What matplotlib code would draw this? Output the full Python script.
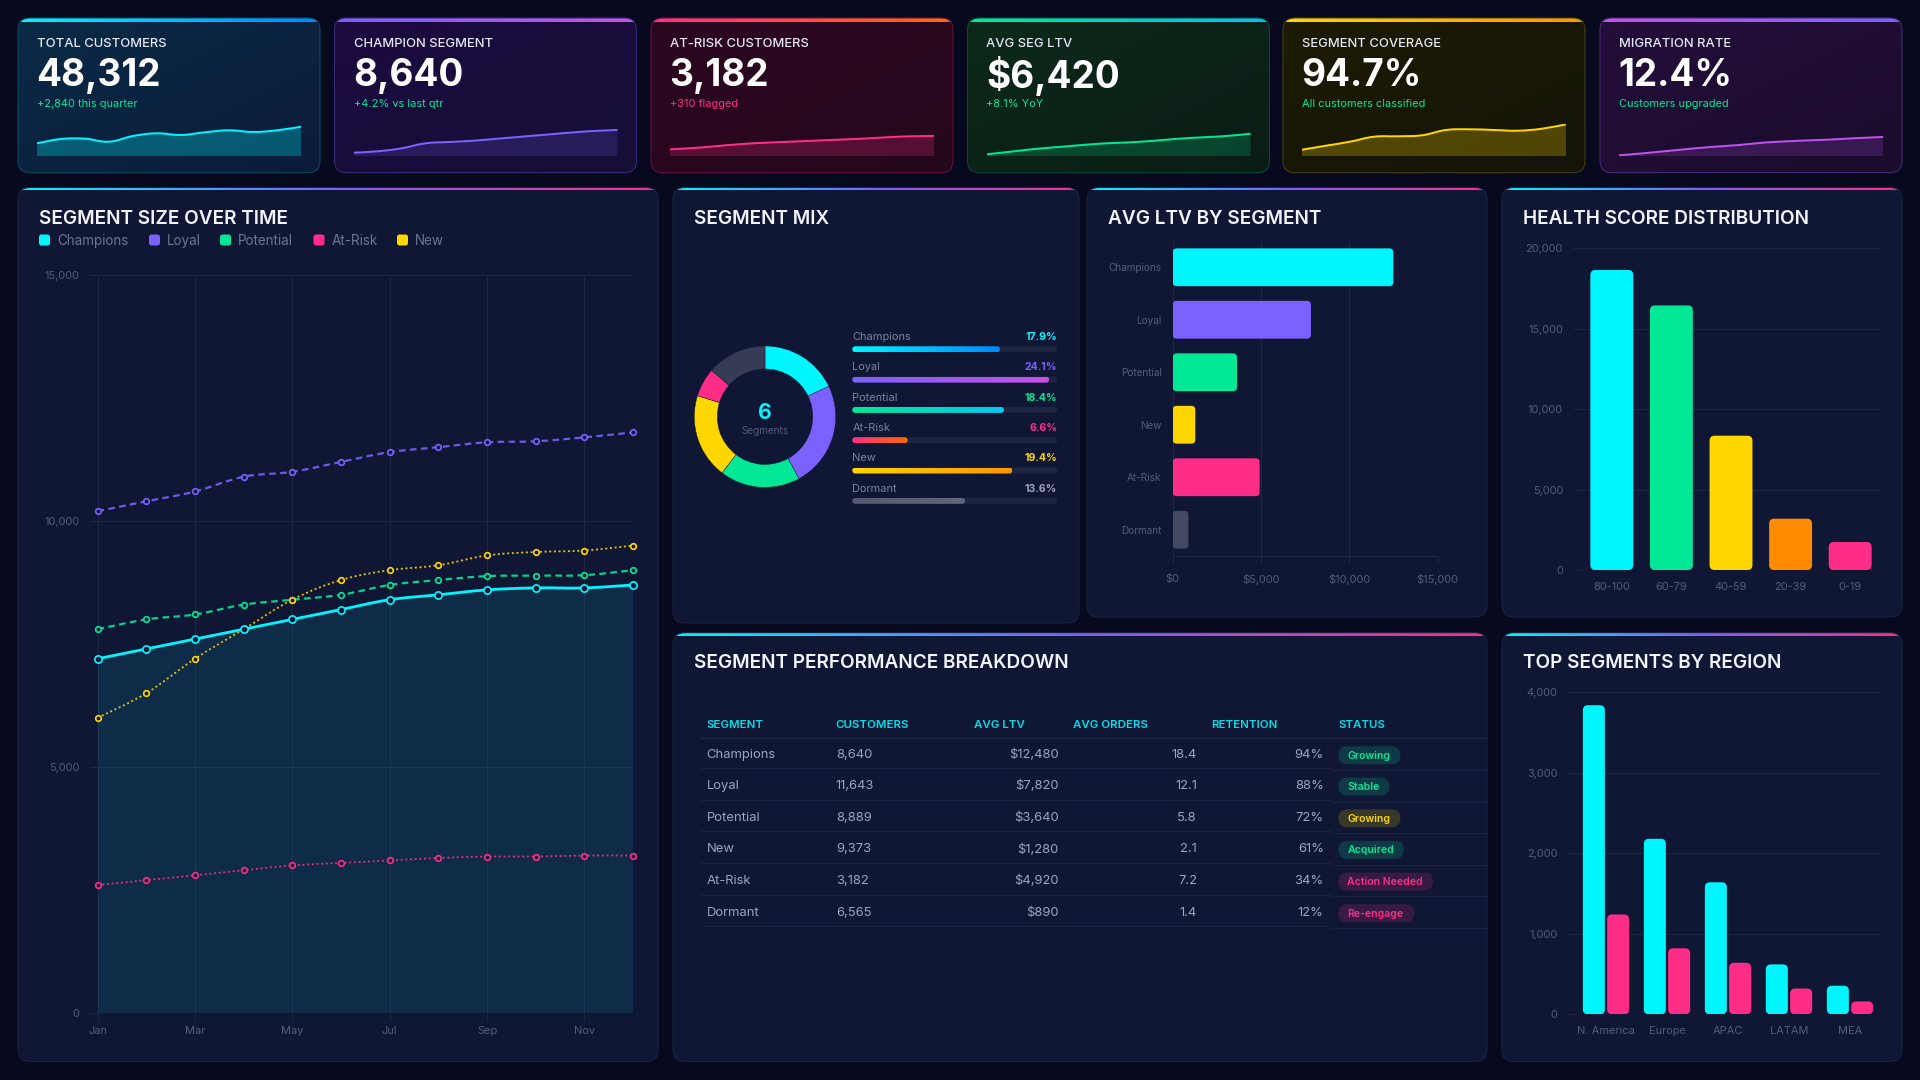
import numpy as np
import matplotlib
matplotlib.use('Agg')
import matplotlib.pyplot as plt
from matplotlib.colors import LinearSegmentedColormap
from matplotlib.patches import FancyBboxPatch, PathPatch
from matplotlib.path import Path
from matplotlib.ticker import FuncFormatter

plt.rcParams['font.family'] = ['Inter', 'DejaVu Sans']

# colours
BG = '#070a1e'
PANEL = '#101735'
PANEL_EDGE = '#1d2442'
GRID = '#1e2642'
TICK = '#575d78'
CYAN = '#00f5ff'
PURPLE = '#7b61ff'
GREEN = '#00e896'
PINK = '#ff2d87'
YELLOW = '#ffd600'
ORANGE = '#ff8c00'
GREY = '#363b56'

# KPI cards
kpi_labels = ['TOTAL CUSTOMERS', 'CHAMPION SEGMENT', 'AT-RISK CUSTOMERS', 'AVG SEG LTV', 'SEGMENT COVERAGE', 'MIGRATION RATE']
kpi_values = ['48,312', '8,640', '3,182', '$6,420', '94.7%', '12.4%']
kpi_subs = ['+2,840 this quarter', '+4.2% vs last qtr', '+310 flagged', '+8.1% YoY', 'All customers classified', 'Customers upgraded']
spark_customers = [12.7, 17, 17.3, 14.3, 20, 22.7, 21, 23.7, 25.7, 24, 25.7, 29.3]
spark_champion = [3.3, 4.7, 7.7, 12.7, 14, 15.3, 17.3, 19.3, 21.3, 23.3, 25, 26]
spark_atrisk = [6.7, 8, 10, 12, 13.3, 14.3, 15.3, 16.3, 17.3, 18.7, 19.7, 20]
spark_ltv = [1.7, 4.3, 7, 9, 11, 12.7, 13.7, 15.3, 17.3, 18.7, 20, 22.3]
spark_coverage = [6.3, 10.3, 14.3, 19.3, 19.7, 20.7, 26, 26.7, 26, 25.3, 27.3, 31.7]
spark_migration = [0.7, 2.7, 5, 7.3, 9.3, 11, 13.3, 14.7, 15.7, 16.7, 18, 19]

# segment size over time
months = ['Jan', 'Feb', 'Mar', 'Apr', 'May', 'Jun', 'Jul', 'Aug', 'Sep', 'Oct', 'Nov', 'Dec']
champions = [7200, 7400, 7600, 7800, 8000, 8200, 8400, 8500, 8600, 8640, 8640, 8700]
loyal = [10200, 10400, 10600, 10900, 11000, 11200, 11400, 11500, 11600, 11620, 11700, 11800]
potential = [7800, 8000, 8100, 8300, 8400, 8500, 8700, 8800, 8880, 8890, 8900, 9000]
at_risk = [2600, 2700, 2800, 2900, 3000, 3050, 3100, 3150, 3180, 3180, 3200, 3200]
new = [6000, 6500, 7200, 7800, 8400, 8800, 9000, 9100, 9300, 9370, 9400, 9500]

# segment mix
mix_labels = ['Champions', 'Loyal', 'Potential', 'At-Risk', 'New', 'Dormant']
mix_pct = [17.9, 24.1, 18.4, 6.6, 19.4, 13.6]
mix_fill = [72, 96, 74, 27, 78, 55]
donut_order = ['Champions', 'Loyal', 'Potential', 'New', 'At-Risk', 'Dormant']

# avg ltv
ltv_labels = ['Champions', 'Loyal', 'Potential', 'New', 'At-Risk', 'Dormant']
ltv_values = [12480, 7820, 3640, 1280, 4920, 890]

# health score
health_labels = ['80-100', '60-79', '40-59', '20-39', '0-19']
health_values = [18650, 16450, 8350, 3190, 1740]

# region
regions = ['N. America', 'Europe', 'APAC', 'LATAM', 'MEA']
region_champions = [3840, 2180, 1640, 620, 355]
region_atrisk = [1240, 820, 640, 320, 160]

# table
table_head = ['SEGMENT', 'CUSTOMERS', 'AVG LTV', 'AVG ORDERS', 'RETENTION', 'STATUS']
table_segment = ['Champions', 'Loyal', 'Potential', 'New', 'At-Risk', 'Dormant']
table_customers = ['8,640', '11,643', '8,889', '9,373', '3,182', '6,565']
table_ltv = ['$12,480', '$7,820', '$3,640', '$1,280', '$4,920', '$890']
table_orders = ['18.4', '12.1', '5.8', '2.1', '7.2', '1.4']
table_retention = ['94%', '88%', '72%', '61%', '34%', '12%']
table_status = ['Growing', 'Stable', 'Growing', 'Acquired', 'Action Needed', 'Re-engage']

W, H = 1920, 1080
PX = 0.72  # css px to pt at dpi 100

fig = plt.figure(figsize=(W / 100, H / 100), dpi=100, facecolor=BG)
bg = fig.add_axes([0, 0, 1, 1])
bg.set_xlim(0, W)
bg.set_ylim(H, 0)
bg.axis('off')
bg.set_autoscale_on(False)


def axpx(l, t, r, b):
    ax = fig.add_axes([l / W, 1 - b / H, (r - l) / W, (b - t) / H])
    ax.patch.set_alpha(0)
    ax.set_autoscale_on(False)
    return ax


def gradient(ax, extent, colors, clip, diagonal=False, zorder=2):
    cmap = LinearSegmentedColormap.from_list('g', colors)
    if diagonal:
        a = np.add.outer(np.linspace(0, 1, 64), np.linspace(0, 1, 64)) / 2
    else:
        a = np.linspace(0, 1, 256)[None, :]
    im = ax.imshow(a, extent=extent, cmap=cmap, vmin=0, vmax=1, aspect='auto',
                   interpolation='bilinear', zorder=zorder)
    im.set_clip_path(clip)
    return im


def panel(l, t, r, b, fill, bar, edge=PANEL_EDGE, bar_h=3):
    box = FancyBboxPatch((l, t), r - l, b - t, boxstyle='round,pad=0,rounding_size=12',
                         fc='none', ec=edge, lw=1 * PX, zorder=3)
    bg.add_patch(box)
    if isinstance(fill, str):
        fill = [fill, fill]
    gradient(bg, (l, r, b, t), fill, box, diagonal=True, zorder=1)
    gradient(bg, (l, r, t + bar_h, t), bar, box, zorder=2)


def rbar(ax, x, y, w, h, r_px, color, zorder=3, **kw):
    # rounded rectangle in data units, radius stays r_px on screen
    bb = ax.get_position()
    xpp = (ax.get_xlim()[1] - ax.get_xlim()[0]) / (bb.width * W)
    ypp = abs(ax.get_ylim()[1] - ax.get_ylim()[0]) / (bb.height * H)
    p = FancyBboxPatch((x, y), w, h, boxstyle='round,pad=0,rounding_size=%f' % (r_px * xpp),
                       mutation_aspect=ypp / xpp, fc=color, ec='none', zorder=zorder, **kw)
    ax.add_patch(p)
    return p


def smooth_path(x, y, k=0.18):
    x = np.asarray(x, float)
    y = np.asarray(y, float)
    n = len(x)
    verts = [(x[0], y[0])]
    codes = [Path.MOVETO]
    for i in range(n - 1):
        a = max(i - 1, 0)
        d = min(i + 2, n - 1)
        verts.append((x[i] + (x[i + 1] - x[a]) * k, y[i] + (y[i + 1] - y[a]) * k))
        verts.append((x[i + 1] - (x[d] - x[i]) * k, y[i + 1] - (y[d] - y[i]) * k))
        verts.append((x[i + 1], y[i + 1]))
        codes += [Path.CURVE4] * 3
    return verts, codes


def style_axis(ax, size=11):
    for s in ax.spines.values():
        s.set_visible(False)
    ax.tick_params(colors=TICK, labelsize=size * PX, color=GRID, width=1 * PX)
    ax.set_axisbelow(True)


def title(x, y, s):
    bg.text(x, y, s, color='#f2f5ff', fontsize=19 * PX, fontweight='semibold', va='center', ha='left', zorder=5)


# ---- KPI cards
card_x = [(18, 320), (334.5, 636.5), (651, 953), (967.5, 1269.5), (1283, 1585), (1600, 1902)]
card_fill = [['#0a2a46', '#0c1c3a'], ['#1b0a3e', '#170f38'], ['#2c0720', '#25081c'],
             ['#0c2a1a', '#0b1c14'], ['#1d1b03', '#14140a'], ['#240e3a', '#1a0c2c']]
card_bar = [[CYAN, '#0088ff'], [PURPLE, '#c850e8'], [PINK, '#ff6a00'], [GREEN, '#00c0f5'],
            [YELLOW, '#ff9500'], ['#c850e8', PURPLE]]
card_edge = ['#0c4a60', '#3a2a78', '#6a1040', '#0c4a38', '#4a430a', '#4a2a78']
spark_color = [CYAN, PURPLE, PINK, GREEN, YELLOW, '#c050f0']
spark_alpha = [0.28, 0.17, 0.22, 0.2, 0.25, 0.18]
sub_color = [GREEN, GREEN, PINK, GREEN, GREEN, GREEN]
sparks = [spark_customers, spark_champion, spark_atrisk, spark_ltv, spark_coverage, spark_migration]

for i, (l, r) in enumerate(card_x):
    panel(l, 18, r, 172.7, card_fill[i], card_bar[i], edge=card_edge[i], bar_h=4)
    bg.text(l + 19, 44, kpi_labels[i], color='#e4e8f4', fontsize=13 * PX, fontweight='medium', va='center', zorder=5)
    bg.text(l + 18.5, 76, kpi_values[i], color='white', fontsize=37 * PX, fontweight='bold', va='center', zorder=5)
    bg.text(l + 19, 104, kpi_subs[i], color=sub_color[i], fontsize=11 * PX, va='center', zorder=5)
    sp = axpx(l + 19, 124, r - 19, 156)
    sp.set_xlim(0, 11)
    sp.set_ylim(0, 32)
    sp.axis('off')
    verts, codes = smooth_path(range(12), sparks[i], k=0.2)
    fv = verts + [(11, 0), (0, 0), (0, 0)]
    fc = codes + [Path.LINETO, Path.LINETO, Path.CLOSEPOLY]
    sp.add_patch(PathPatch(Path(fv, fc), fc=spark_color[i], ec='none', alpha=spark_alpha[i]))
    sp.add_patch(PathPatch(Path(verts, codes), fc='none', ec=spark_color[i], lw=2 * PX))

# ---- panels
top_bar = [CYAN, '#7b61ff', PINK]
panel(18, 187.5, 658, 1061.5, PANEL, top_bar)
panel(673, 187.5, 1079, 623, PANEL, top_bar)
panel(1087, 187.5, 1487, 617, PANEL, top_bar)
panel(1502, 187.5, 1902, 617, PANEL, top_bar)
panel(673, 632.7, 1487, 1061.5, PANEL, top_bar)
panel(1502, 632.7, 1902, 1061.5, PANEL, top_bar)

title(39, 218.5, 'SEGMENT SIZE OVER TIME')
title(694, 218.5, 'SEGMENT MIX')
title(1108, 218.5, 'AVG LTV BY SEGMENT')
title(1523, 218.5, 'HEALTH SCORE DISTRIBUTION')
title(694, 663.5, 'SEGMENT PERFORMANCE BREAKDOWN')
title(1523, 663.5, 'TOP SEGMENTS BY REGION')

# ---- line chart
legend_items = [('Champions', CYAN, 39), ('Loyal', PURPLE, 149), ('Potential', GREEN, 220),
                ('At-Risk', PINK, 313.5), ('New', YELLOW, 397)]
for name, c, x in legend_items:
    bg.add_patch(FancyBboxPatch((x, 234.5), 11, 11, boxstyle='round,pad=0,rounding_size=2.5', fc=c, ec='none', zorder=5))
    bg.text(x + 18, 241, name, color='#6f7590', fontsize=13.5 * PX, va='center', zorder=5)

ax = axpx(97.6, 275, 633, 1013)
ax.set_xlim(0, 11)
ax.set_ylim(0, 15000)
style_axis(ax)
ax.set_xticks(range(0, 12, 2))
ax.set_xticklabels(months[::2])
ax.set_yticks([0, 5000, 10000, 15000])
ax.yaxis.set_major_formatter(FuncFormatter(lambda v, p: f'{int(v):,}'))
ax.tick_params(axis='x', length=8 * PX, pad=5 * PX)
ax.tick_params(axis='y', length=8 * PX, pad=10 * PX)
ax.grid(True, color=GRID, lw=1 * PX)
xs = range(12)
verts, codes = smooth_path(xs, champions)
ax.add_patch(PathPatch(Path(verts + [(11, 0), (0, 0), (0, 0)], codes + [Path.LINETO, Path.LINETO, Path.CLOSEPOLY]),
                       fc=CYAN, ec='none', alpha=0.09, zorder=1))
series = [(loyal, PURPLE, 2.2, (0, (3, 2)), 2.8),
          (potential, GREEN, 2.2, (0, (3, 2)), 2.8),
          (at_risk, PINK, 1.8, (0, (1.1, 1.5)), 2.8),
          (new, YELLOW, 1.8, (0, (1.1, 1.5)), 2.8),
          (champions, CYAN, 2.8, '-', 3.6)]
for vals, c, lw, ls, ms in series:
    verts, codes = smooth_path(xs, vals)
    ax.add_patch(PathPatch(Path(verts, codes), fc='none', ec=c, lw=lw * PX, ls=ls, zorder=3, alpha=0.9 if ls != '-' else 1))
    ax.plot(xs, vals, ls='none', marker='o', ms=ms * 2 * PX, mfc=PANEL, mec=c, mew=1.7 * PX, zorder=4, clip_on=False)

# ---- donut
r_frame = 70.7 * 1.1
ax = axpx(765 - r_frame, 416.7 - r_frame, 765 + r_frame, 416.7 + r_frame)
donut_vals = [mix_pct[mix_labels.index(n)] for n in donut_order]
donut_cols = [CYAN, PURPLE, GREEN, YELLOW, PINK, GREY]
ax.pie(donut_vals, colors=donut_cols, startangle=90, counterclock=False, radius=1,
       wedgeprops=dict(width=0.325, edgecolor=PANEL, linewidth=0.3))
ax.set_xlim(-1.1, 1.1)
ax.set_ylim(-1.1, 1.1)
ax.text(0, 0.05, '6', color=CYAN, fontsize=21 * PX, fontweight='bold', ha='center', va='center')
ax.text(0, -0.2, 'Segments', color='#555b76', fontsize=10 * PX, ha='center', va='center')

# ---- mix list
ax = axpx(852.3, 334.15, 1057.3, 515.95)
ax.set_xlim(0, 100)
ax.set_ylim(5.5, -0.5)
ax.axis('off')
mix_cols = [CYAN, PURPLE, GREEN, PINK, YELLOW, '#a0a4b8']
mix_grad = [[CYAN, '#0088ff'], [PURPLE, '#c850e8'], [GREEN, '#00c8f0'], [PINK, '#ff6a00'],
            [YELLOW, '#ff9500'], ['#555a70', '#62667c']]
bar_h = 6 / 30.3
for i, name in enumerate(mix_labels):
    ax.text(0, i - 0.4, name, color='#7d8298', fontsize=11 * PX, va='center', clip_on=False)
    ax.text(100, i - 0.4, f'{mix_pct[i]}%', color=mix_cols[i], fontsize=10.5 * PX, fontweight='bold',
            va='center', ha='right', clip_on=False)
    rbar(ax, 0, i - bar_h / 2, 100, bar_h, 3, '#1e2540', zorder=1)
    clip = rbar(ax, 0, i - bar_h / 2, mix_fill[i], bar_h, 3, 'none', zorder=1)
    gradient(ax, (0, mix_fill[i], i + bar_h / 2, i - bar_h / 2), mix_grad[i], clip)

# ---- avg ltv
ax = axpx(1172.7, 241, 1437.8, 556)
ax.set_xlim(0, 15000)
ax.set_ylim(5.5, -0.5)
style_axis(ax)
ax.set_xticks([0, 5000, 10000, 15000])
ax.xaxis.set_major_formatter(FuncFormatter(lambda v, p: f'${int(v):,}'))
ax.set_yticks(range(6))
ax.set_yticklabels(ltv_labels, fontsize=10 * PX)
ax.tick_params(axis='x', length=7 * PX, pad=11 * PX)
ax.tick_params(axis='y', length=0, pad=11 * PX)
ax.grid(True, axis='x', color=GRID, lw=1 * PX)
ax.spines['bottom'].set_visible(True)
ax.spines['bottom'].set_color(GRID)
ltv_cols = [CYAN, PURPLE, GREEN, YELLOW, PINK, '#444a62']
for i, v in enumerate(ltv_values):
    rbar(ax, 0, i - 0.36, v, 0.72, 4, ltv_cols[i])

# ---- health score
ax = axpx(1582, 248.3, 1880, 570)
ax.set_xlim(-0.5, 4.5)
ax.set_ylim(0, 20000)
style_axis(ax)
ax.set_xticks(range(5))
ax.set_xticklabels(health_labels)
ax.set_yticks([0, 5000, 10000, 15000, 20000])
ax.yaxis.set_major_formatter(FuncFormatter(lambda v, p: f'{int(v):,}'))
ax.tick_params(axis='x', length=0, pad=12 * PX)
ax.tick_params(axis='y', length=9 * PX, pad=10 * PX)
ax.grid(True, axis='y', color=GRID, lw=1 * PX)
ax.spines['bottom'].set_visible(False)
health_cols = [CYAN, GREEN, YELLOW, ORANGE, PINK]
for i, v in enumerate(health_values):
    rbar(ax, i - 0.36, 0, 0.72, v, 5, health_cols[i])

# ---- region
ax = axpx(1575.5, 692.3, 1880.5, 1014.3)
ax.set_xlim(-0.5, 4.5)
ax.set_ylim(0, 4000)
style_axis(ax)
ax.set_xticks(range(5))
ax.set_xticklabels(regions)
ax.set_yticks([0, 1000, 2000, 3000, 4000])
ax.yaxis.set_major_formatter(FuncFormatter(lambda v, p: f'{int(v):,}'))
ax.tick_params(axis='x', length=0, pad=12 * PX)
ax.tick_params(axis='y', length=8 * PX, pad=10 * PX)
ax.grid(True, axis='y', color=GRID, lw=1 * PX)
bw = 22 / 61
gap = 2.3 / 61
for i in range(5):
    rbar(ax, i - bw - gap / 2, 0, bw, region_champions[i], 5, CYAN)
    rbar(ax, i + gap / 2, 0, bw, region_atrisk[i], 5, PINK)

# ---- table
head_x = [706.6, 835.8, 973.9, 1073, 1211, 1338.4]
row_y = [754.7, 786, 817.7, 849.3, 881, 912.7]
line_y = [768.3, 800, 831.3, 863.3, 894.7, 926.3]
badge_w = [62, 51, 62, 65.4, 94.6, 76]
badge_col = [GREEN, GREEN, YELLOW, GREEN, PINK, PINK]
TXT = '#9ea4ba'
for x, s in zip(head_x, table_head):
    bg.text(x, 725.2, s, color='#00dfe8', fontsize=11.5 * PX, fontweight='semibold', va='center', zorder=5)
bg.plot([700, 1487], [738.3, 738.3], color=GRID, lw=1.2 * PX, zorder=4)
for i, y in enumerate(row_y):
    bg.text(head_x[0], y, table_segment[i], color=TXT, fontsize=13 * PX, va='center', zorder=5)
    bg.text(head_x[1], y, table_customers[i], color=TXT, fontsize=13 * PX, va='center', zorder=5)
    bg.text(1058.6, y, table_ltv[i], color=TXT, fontsize=13 * PX, va='center', ha='right', zorder=5)
    bg.text(1197, y, table_orders[i], color=TXT, fontsize=13 * PX, va='center', ha='right', zorder=5)
    bg.text(1323.8, y, table_retention[i], color=TXT, fontsize=13 * PX, va='center', ha='right', zorder=5)
    bg.plot([700, 1331], [line_y[i], line_y[i]], color='#1a2140', lw=1 * PX, zorder=4)
    bg.plot([1331, 1487], [line_y[i] + 1.6, line_y[i] + 1.6], color='#1a2140', lw=1 * PX, zorder=4)
    by = y + 0.6
    bg.add_patch(FancyBboxPatch((1338.4, by - 9), badge_w[i], 18, boxstyle='round,pad=0,rounding_size=9',
                                fc=badge_col[i], ec='none', alpha=0.17, zorder=4))
    bg.text(1347.3, by + 0.4, table_status[i], color=badge_col[i], fontsize=10.5 * PX, fontweight='semibold', va='center', zorder=5)

fig.savefig('out.png', dpi=100, facecolor=BG)
